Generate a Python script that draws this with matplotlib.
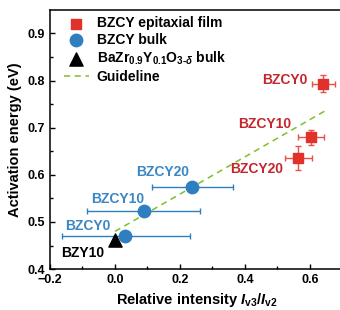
import numpy as np
import matplotlib
matplotlib.use("Agg")
from matplotlib import pyplot as plt

plt.rcParams['font.family'] = ['Liberation Sans', 'DejaVu Sans']
plt.rcParams['font.weight'] = 'bold'
plt.rcParams['mathtext.fontset'] = 'custom'
plt.rcParams['mathtext.rm'] = 'Liberation Sans:bold'
plt.rcParams['mathtext.it'] = 'Liberation Sans:bold:italic'
plt.rcParams['mathtext.bf'] = 'Liberation Sans:bold'

# BZCY epitaxial film (red squares)
film_names = ['BZCY0', 'BZCY10', 'BZCY20']
film_x = [0.641, 0.603, 0.564]
film_y = [0.793, 0.680, 0.636]
film_xerr = [0.036, 0.040, 0.041]
film_yerr = [0.018, 0.016, 0.025]

# BZCY bulk (blue circles)
bulk_names = ['BZCY0', 'BZCY10', 'BZCY20']
bulk_x = [0.032, 0.088, 0.237]
bulk_y = [0.470, 0.523, 0.574]
bulk_xlo = [-0.164, -0.085, 0.113]
bulk_xhi = [0.230, 0.262, 0.363]

# BZY10 bulk (black triangle)
bzy_x = [0.0]
bzy_y = [0.461]

# guideline
guide_x = [0.0, 0.65]
guide_y = [0.480, 0.737]

red = '#e0312a'
red_txt = '#c4262e'
blue = '#2f7fc0'
blue_txt = '#3a87c4'
green = '#7cc02a'

fig = plt.figure(figsize=(3.4, 3.1), dpi=100)
ax = fig.add_axes([0.147, 0.132, 0.86, 0.836])

ax.plot(guide_x, guide_y, ls='--', color=green, lw=1.1, dashes=(4, 3), label='Guideline', zorder=1)

xerr_b = [np.array(bulk_x) - np.array(bulk_xlo), np.array(bulk_xhi) - np.array(bulk_x)]
ax.errorbar(bulk_x, bulk_y, xerr=xerr_b, fmt='none', ecolor=blue, elinewidth=1.0,
            capsize=2.5, capthick=1.0, zorder=2)
ax.errorbar(film_x, film_y, xerr=film_xerr, yerr=film_yerr, fmt='none', ecolor='#e8504a',
            elinewidth=1.0, capsize=2.5, capthick=1.0, zorder=2)

h_film = ax.scatter(film_x, film_y, marker='s', s=58, color=red, zorder=3, label='BZCY epitaxial film')
h_bulk = ax.scatter(bulk_x, bulk_y, marker='o', s=80, color=blue, zorder=3, label='BZCY bulk')
h_bzy = ax.scatter(bzy_x, bzy_y, marker='^', s=90, color='black', zorder=4,
                   label=r'BaZr$_{0.9}$Y$_{0.1}$O$_{3\text{-}\delta}$ bulk')

# point labels
film_lab = [(0.523, 0.801), (0.462, 0.707), (0.437, 0.612)]
for name, (tx, ty) in zip(film_names, film_lab):
    ax.text(tx, ty, name, color=red_txt, fontsize=10, fontweight='bold', ha='center', va='center')
bulk_lab = [(-0.083, 0.492), (0.009, 0.549), (0.148, 0.607)]
for name, (tx, ty) in zip(bulk_names, bulk_lab):
    ax.text(tx, ty, name, color=blue_txt, fontsize=10, fontweight='bold', ha='center', va='center')
ax.text(-0.098, 0.435, 'BZY10', color='black', fontsize=10, fontweight='bold', ha='center', va='center')

h_guide = ax.get_lines()[0]
ax.legend(handles=[h_film, h_bulk, h_bzy, h_guide], loc='upper left', frameon=False,
          fontsize=10, handlelength=1.8, handletextpad=0.6, labelspacing=0.2,
          bbox_to_anchor=(0.025, 1.0), borderaxespad=0.05)

ax.set_xlim(-0.2, 0.7)
ax.set_ylim(0.4, 0.95)
ax.set_xticks([-0.2, 0.0, 0.2, 0.4, 0.6])
ax.set_yticks([0.4, 0.5, 0.6, 0.7, 0.8, 0.9])
ax.set_xticks(np.arange(-0.1, 0.7, 0.2), minor=True)
ax.set_yticks(np.arange(0.45, 0.95, 0.1), minor=True)
ax.tick_params(which='both', direction='in', labelsize=9, width=1.0)
ax.tick_params(which='major', length=3.5)
ax.tick_params(which='minor', length=2)
for lab in ax.get_xticklabels() + ax.get_yticklabels():
    lab.set_fontweight('bold')
for sp in ax.spines.values():
    sp.set_linewidth(1.1)

ax.set_xlabel(r'Relative intensity $I_{\mathrm{v3}}/I_{\mathrm{v2}}$', fontsize=10.5, fontweight='bold', labelpad=4)
ax.set_ylabel('Activation energy (eV)', fontsize=10.5, fontweight='bold', labelpad=4)

fig.savefig('out.png', dpi=100)
